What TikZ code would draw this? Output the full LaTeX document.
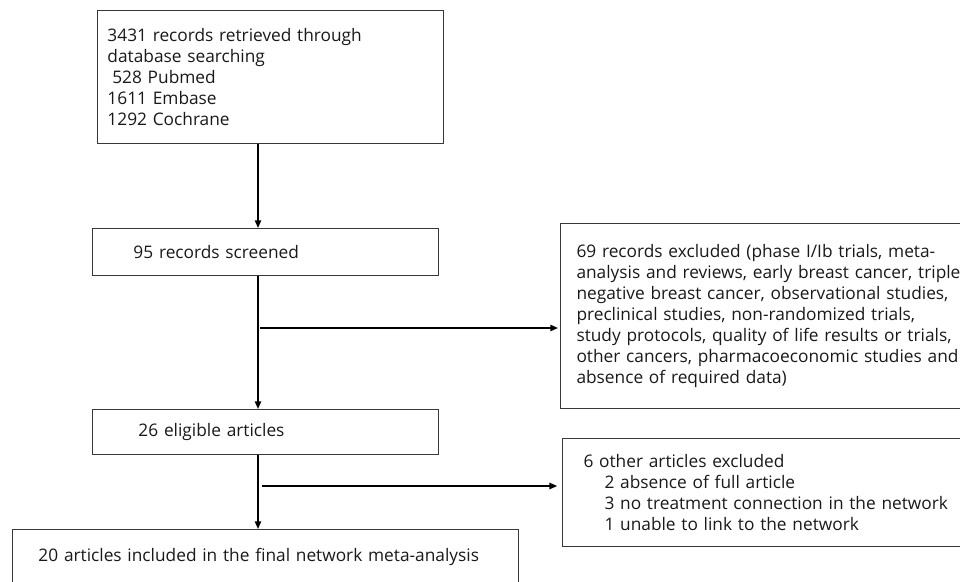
\documentclass[tikz,border=0pt]{standalone}
\usepackage{fontspec}
\setmainfont{Open Sans}
\usetikzlibrary{arrows.meta}

\tikzset{
  box/.style={draw=black!78, line width=0.7pt, rectangle, align=left, anchor=north west,
    inner xsep=0.25cm, inner ysep=0pt, text=black!90,
    font=\fontsize{12.3}{14.9}\selectfont},
  arr/.style={line width=1.1pt, -{Triangle[length=5.5pt,width=4.5pt]}}
}

\begin{document}
\begin{tikzpicture}
				% Рамка рисунка
				\useasboundingbox (0,0) rectangle (24,-14.525);
				
				% Ось основной колонки
				\coordinate (axis) at (6.45,0);
				
				% Блоки основной колонки
				\node[box, text width=8.15cm, minimum width=8.65cm, minimum height=3.325cm] (retrieved) at (2.425,-0.25)
					{3431 records retrieved through\\ database searching\\ \hspace*{0.12cm}528 Pubmed\\ 1611 Embase\\ 1292 Cochrane};
				\node[box, text width=8.15cm, minimum width=8.65cm, minimum height=1.175cm] (screened) at (2.3,-5.7)
					{\hspace*{0.775cm}95 records screened};
				\node[box, text width=8.15cm, minimum width=8.65cm, minimum height=1.125cm] (eligible) at (2.3,-10.225)
					{\hspace*{0.9cm}26 eligible articles};
				\node[box, text width=12.15cm, minimum width=12.65cm, minimum height=1.35cm] (included) at (0.3,-13.225)
					{\hspace*{0.4cm}20 articles included in the final network meta-analysis};
				
				% Блоки исключённых записей
				\node[box, text width=10.1cm, minimum width=10.6cm, minimum height=4.625cm] (excluded) at (14.0,-5.575)
					{\hspace*{0.15cm}\parbox[t]{9.9cm}{\raggedright
					69 records excluded (phase I/Ib trials, meta-\\ analysis and reviews, early breast cancer, triple\\
					negative breast cancer, observational studies,\\ preclinical studies, non-randomized trials,\\
					study protocols, quality of life results or trials,\\ other cancers, pharmacoeconomic studies and\\
					absence of required data)}};
				\node[box, text width=10.1cm, minimum width=10.6cm, minimum height=2.7cm] (other) at (14.05,-10.95)
					{\hspace*{0.275cm}6 other articles excluded\\ \hspace*{0.8cm}2 absence of full article\\
					\hspace*{0.8cm}3 no treatment connection in the network\\ \hspace*{0.8cm}1 unable to link to the network};
				
				% Стрелки вниз
				\draw[arr] (retrieved.south -| axis) -- (screened.north -| axis);
				\draw[arr] (screened.south -| axis) -- (eligible.north -| axis);
				\draw[arr] (eligible.south -| axis) -- (included.north -| axis);
				
				% Стрелки вправо
				\coordinate (s1) at (6.5,-8.2);
				\coordinate (s2) at (6.55,-12.15);
				\draw[arr, shorten >=0.05cm] (s1) -- (s1 -| excluded.west);
				\draw[arr, shorten >=0.12cm] (s2) -- (s2 -| other.west);
			\end{tikzpicture}
\end{document}
